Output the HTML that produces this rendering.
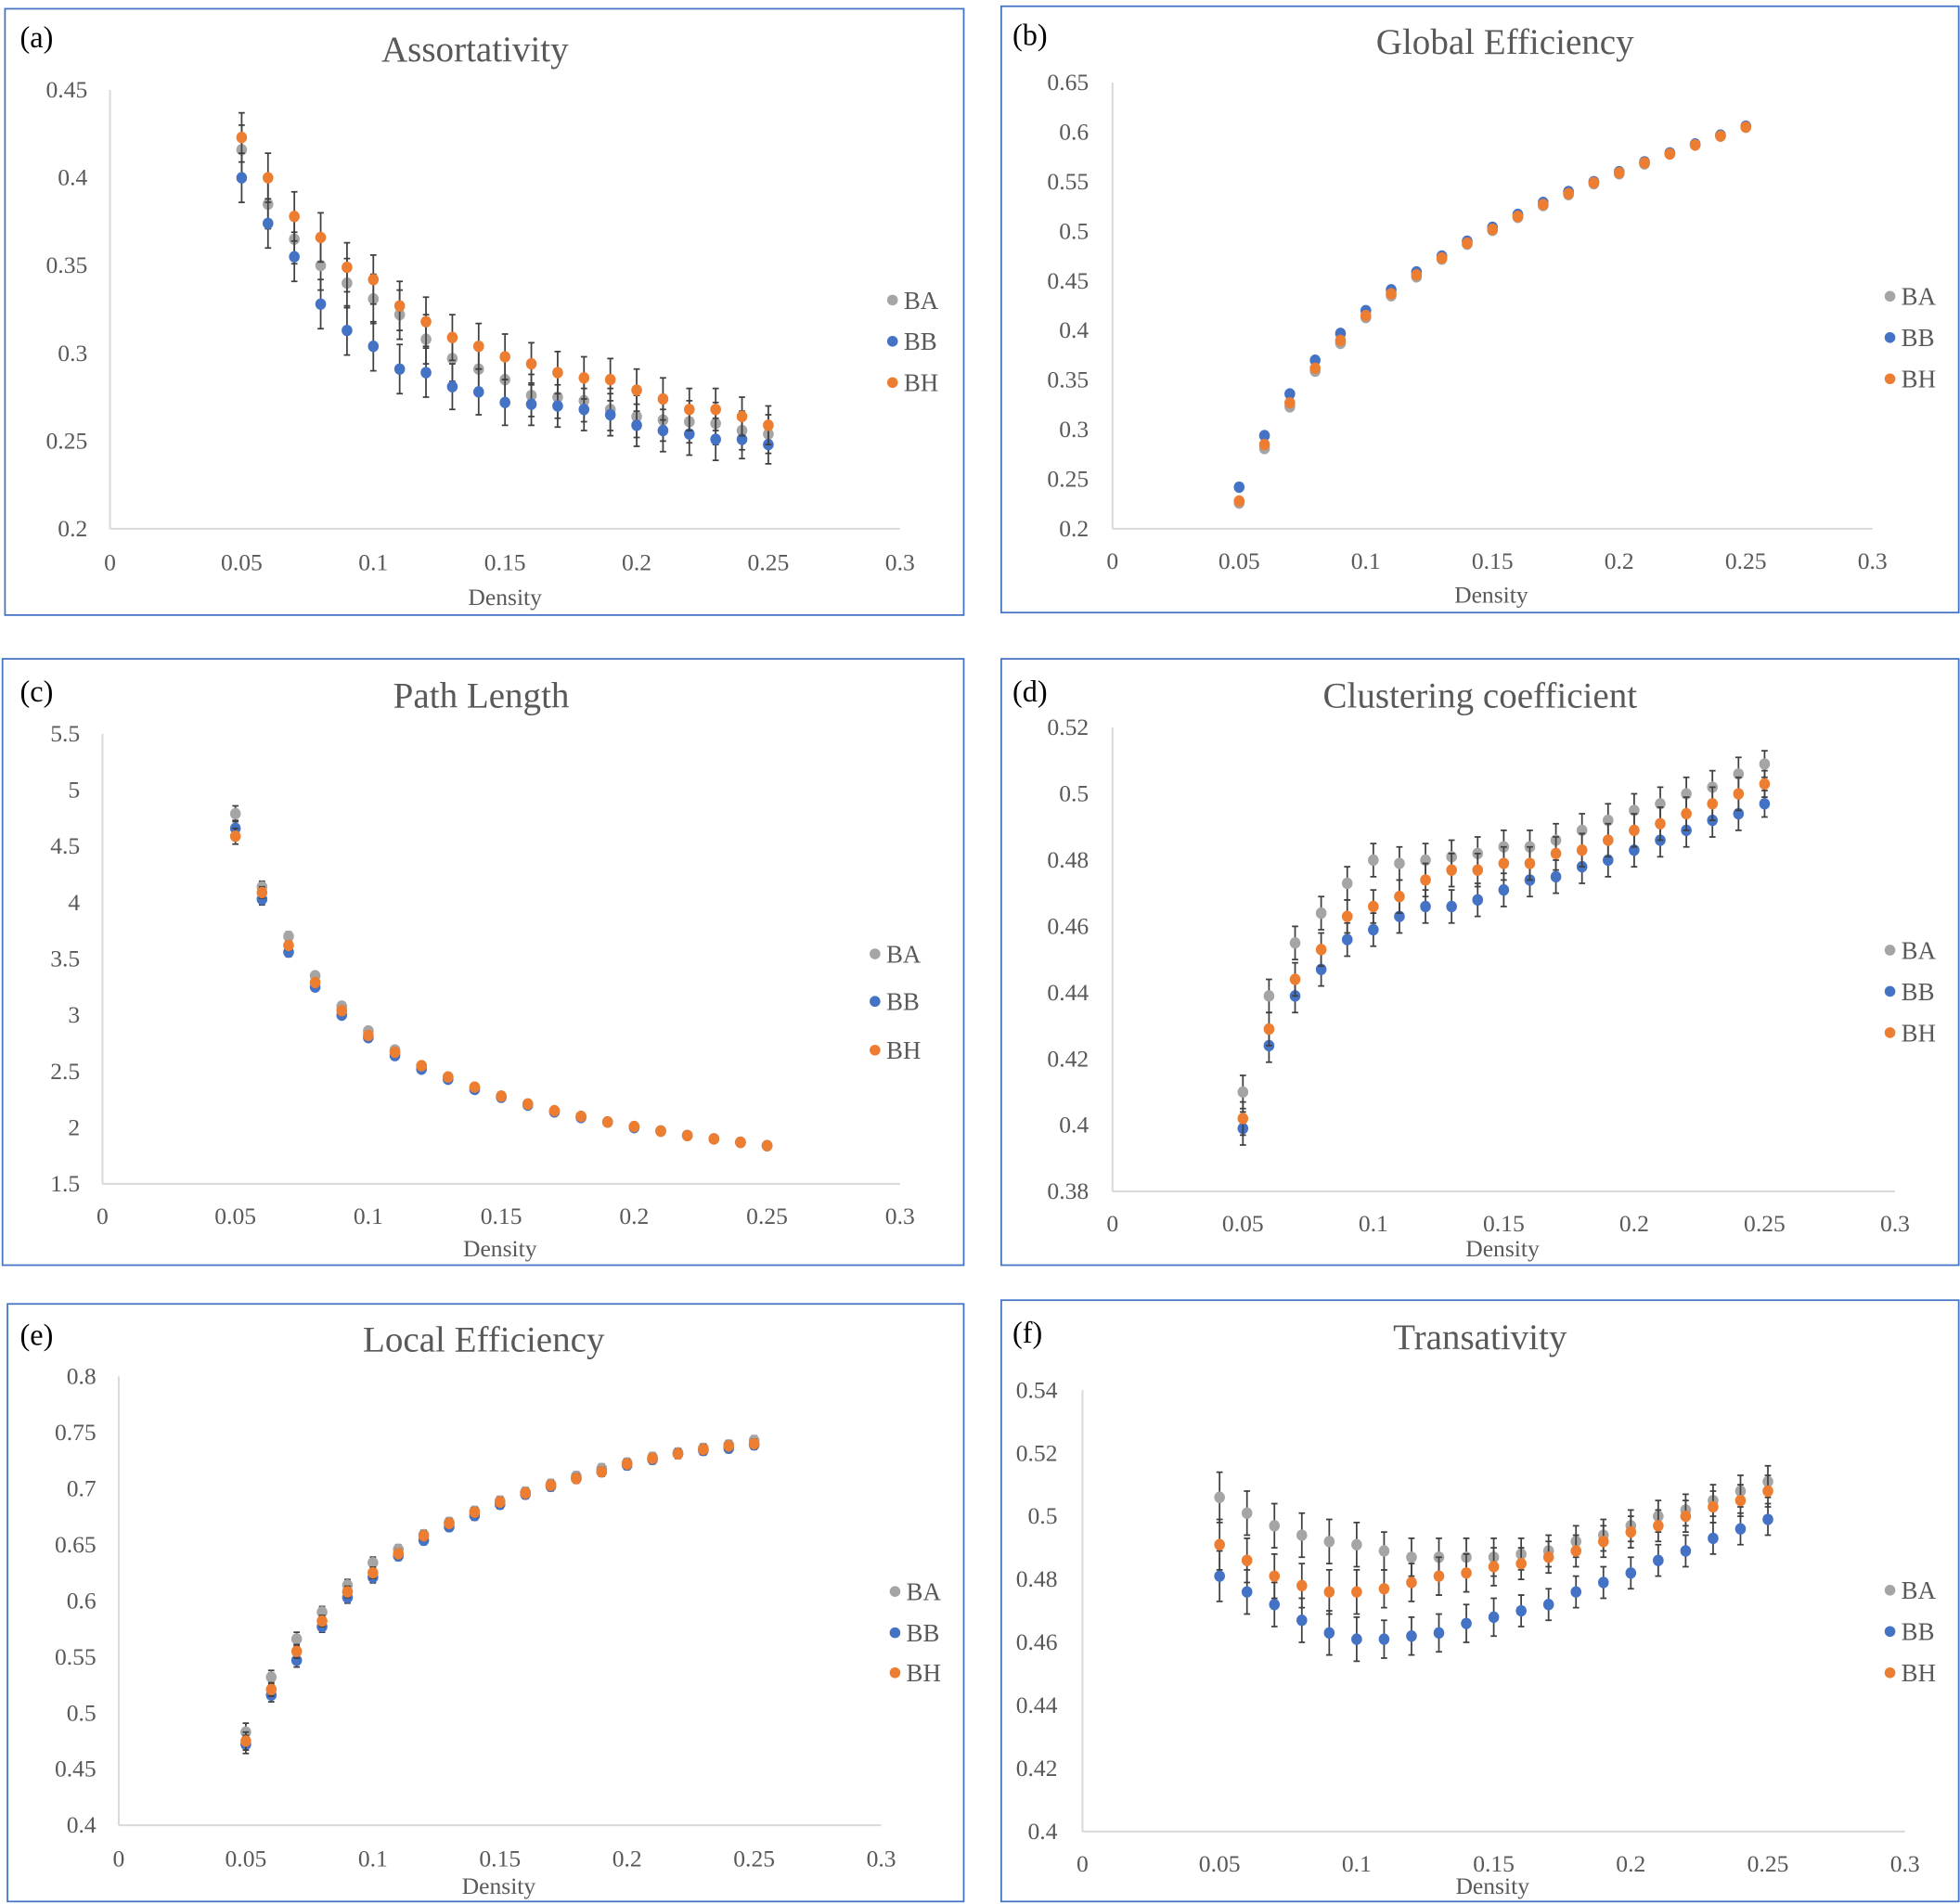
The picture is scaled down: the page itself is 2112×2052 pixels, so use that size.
<!DOCTYPE html>
<html><head><meta charset="utf-8"><style>
html,body{margin:0;padding:0;background:#fff}
svg{display:block}
text{font-family:"Liberation Serif",serif}
</style></head><body>
<svg id="fig" width="2112" height="2052" viewBox="0 0 1568 1523" preserveAspectRatio="none" xmlns="http://www.w3.org/2000/svg"></svg>
<script>
const densities=[0.05,0.06,0.07,0.08,0.09,0.10,0.11,0.12,0.13,0.14,0.15,0.16,0.17,0.18,0.19,0.20,0.21,0.22,0.23,0.24,0.25];
const xTicks=[0,0.05,0.1,0.15,0.2,0.25,0.3];
const seriesNames=["BA","BB","BH"];
const seriesColors=["#a5a5a5","#4472c4","#ed7d31"];

const assortBA=[0.416,0.385,0.365,0.350,0.340,0.331,0.322,0.308,0.297,0.291,0.285,0.276,0.275,0.273,0.268,0.264,0.262,0.261,0.260,0.256,0.254];
const assortBB=[0.400,0.374,0.355,0.328,0.313,0.304,0.291,0.289,0.281,0.278,0.272,0.271,0.270,0.268,0.265,0.259,0.256,0.254,0.251,0.251,0.248];
const assortBH=[0.423,0.400,0.378,0.366,0.349,0.342,0.327,0.318,0.309,0.304,0.298,0.294,0.289,0.286,0.285,0.279,0.274,0.268,0.268,0.264,0.259];
const assortErr=[0.014,0.014,0.014,0.014,0.014,0.014,0.014,0.014,0.013,0.013,0.013,0.012,0.012,0.012,0.012,0.012,0.012,0.012,0.012,0.011,0.011];
const assortTicks=[0.2,0.25,0.3,0.35,0.4,0.45];

const geBA=[0.226,0.281,0.323,0.359,0.387,0.413,0.435,0.454,0.472,0.487,0.501,0.514,0.526,0.537,0.548,0.558,0.568,0.578,0.587,0.596,0.605];
const geBB=[0.242,0.294,0.336,0.370,0.397,0.420,0.441,0.459,0.475,0.490,0.504,0.517,0.529,0.540,0.550,0.560,0.570,0.579,0.588,0.597,0.606];
const geBH=[0.228,0.285,0.327,0.362,0.390,0.415,0.437,0.456,0.473,0.488,0.502,0.515,0.527,0.538,0.549,0.559,0.569,0.578,0.587,0.596,0.605];
const geErr=[0.002,0.002,0.002,0.002,0.002,0.002,0.002,0.002,0.002,0.002,0.002,0.002,0.002,0.002,0.002,0.002,0.002,0.002,0.002,0.002,0.002];
const geTicks=[0.2,0.25,0.3,0.35,0.4,0.45,0.5,0.55,0.6,0.65];

const plBA=[4.79,4.14,3.70,3.35,3.08,2.86,2.69,2.55,2.45,2.36,2.28,2.21,2.15,2.10,2.05,2.01,1.97,1.93,1.90,1.87,1.84];
const plBB=[4.66,4.03,3.56,3.25,3.00,2.80,2.64,2.52,2.43,2.34,2.27,2.20,2.14,2.09,2.05,2.00,1.97,1.93,1.90,1.87,1.84];
const plBH=[4.59,4.09,3.62,3.29,3.04,2.82,2.67,2.55,2.45,2.36,2.28,2.21,2.15,2.10,2.05,2.01,1.97,1.93,1.90,1.87,1.84];
const plErr=[0.07,0.05,0.04,0.03,0.03,0.03,0.02,0.02,0.02,0.02,0.02,0.01,0.01,0.01,0.01,0.01,0.01,0.01,0.01,0.01,0.01];
const plTicks=[1.5,2,2.5,3,3.5,4,4.5,5,5.5];

const ccBA=[0.410,0.439,0.455,0.464,0.473,0.480,0.479,0.480,0.481,0.482,0.484,0.484,0.486,0.489,0.492,0.495,0.497,0.500,0.502,0.506,0.509];
const ccBB=[0.399,0.424,0.439,0.447,0.456,0.459,0.463,0.466,0.466,0.468,0.471,0.474,0.475,0.478,0.480,0.483,0.486,0.489,0.492,0.494,0.497];
const ccBH=[0.402,0.429,0.444,0.453,0.463,0.466,0.469,0.474,0.477,0.477,0.479,0.479,0.482,0.483,0.486,0.489,0.491,0.494,0.497,0.500,0.503];
const ccErr=[0.005,0.005,0.005,0.005,0.005,0.005,0.005,0.005,0.005,0.005,0.005,0.005,0.005,0.005,0.005,0.005,0.005,0.005,0.005,0.005,0.004];
const ccTicks=[0.38,0.4,0.42,0.44,0.46,0.48,0.5,0.52];

const leBA=[0.483,0.532,0.566,0.590,0.614,0.634,0.646,0.659,0.670,0.680,0.689,0.697,0.704,0.711,0.718,0.723,0.728,0.732,0.736,0.739,0.743];
const leBB=[0.472,0.516,0.547,0.577,0.603,0.621,0.640,0.654,0.666,0.676,0.686,0.695,0.702,0.709,0.715,0.721,0.726,0.731,0.734,0.736,0.739];
const leBH=[0.475,0.521,0.555,0.582,0.608,0.625,0.642,0.658,0.669,0.679,0.688,0.696,0.703,0.709,0.715,0.722,0.727,0.731,0.735,0.738,0.740];
const leErr=[0.008,0.006,0.006,0.005,0.005,0.005,0.004,0.004,0.004,0.004,0.004,0.004,0.004,0.004,0.004,0.004,0.004,0.004,0.004,0.004,0.004];
const leTicks=[0.4,0.45,0.5,0.55,0.6,0.65,0.7,0.75,0.8];

const trBA=[0.506,0.501,0.497,0.494,0.492,0.491,0.489,0.487,0.487,0.487,0.487,0.488,0.489,0.492,0.494,0.497,0.500,0.502,0.505,0.508,0.511];
const trBB=[0.481,0.476,0.472,0.467,0.463,0.461,0.461,0.462,0.463,0.466,0.468,0.470,0.472,0.476,0.479,0.482,0.486,0.489,0.493,0.496,0.499];
const trBH=[0.491,0.486,0.481,0.478,0.476,0.476,0.477,0.479,0.481,0.482,0.484,0.485,0.487,0.489,0.492,0.495,0.497,0.500,0.503,0.505,0.508];
const trErr=[0.008,0.007,0.007,0.007,0.007,0.007,0.006,0.006,0.006,0.006,0.006,0.005,0.005,0.005,0.005,0.005,0.005,0.005,0.005,0.005,0.005];
const trTicks=[0.4,0.42,0.44,0.46,0.48,0.5,0.52,0.54];

const NS="http://www.w3.org/2000/svg";
const svg=document.getElementById('fig');
function mk(tag,attrs,parent){const e=document.createElementNS(NS,tag);for(const k in attrs)e.setAttribute(k,attrs[k]);(parent||svg).appendChild(e);return e;}
function txt(s,attrs,parent){const e=mk('text',attrs,parent);e.textContent=s;return e;}

const panels=[
 {id:'assortativity',label:'(a)',title:'Assortativity',box:[4,7,771,492],lab:[16,30],tc:[380,40],x0:88,x1:720,yb:423,yt:72,ticks:assortTicks,dec:2,data:[assortBA,assortBB,assortBH],err:assortErr,lx:714,ly:[240,273,306],dens:[404,478],xl:450,yl:70},
 {id:'global-efficiency',label:'(b)',title:'Global Efficiency',box:[801,5,1567,490],lab:[810,28],tc:[1204,34],x0:890,x1:1498,yb:423,yt:66,ticks:geTicks,dec:2,data:[geBA,geBB,geBH],err:geErr,lx:1512,ly:[237,270,303],dens:[1193,476],xl:449,yl:871},
 {id:'path-length',label:'(c)',title:'Path Length',box:[2,527,771,1012],lab:[16,553],tc:[385,557],x0:82,x1:720,yb:947,yt:587,ticks:plTicks,dec:1,data:[plBA,plBB,plBH],err:plErr,lx:700,ly:[763,801,840],dens:[400,999],xl:973,yl:64},
 {id:'clustering-coefficient',label:'(d)',title:'Clustering coefficient',box:[801,527,1567,1012],lab:[810,553],tc:[1184,557],x0:890,x1:1516,yb:953,yt:582,ticks:ccTicks,dec:2,data:[ccBA,ccBB,ccBH],err:ccErr,lx:1512,ly:[760,793,826],dens:[1202,999],xl:979,yl:871},
 {id:'local-efficiency',label:'(e)',title:'Local Efficiency',box:[6,1043,771,1521],lab:[16,1068],tc:[387,1072],x0:95,x1:705,yb:1460,yt:1101,ticks:leTicks,dec:2,data:[leBA,leBB,leBH],err:leErr,lx:716,ly:[1273,1306,1338],dens:[399,1509],xl:1487,yl:77},
 {id:'transitivity',label:'(f)',title:'Transativity',box:[801,1040,1567,1521],lab:[810,1066],tc:[1184,1070],x0:866,x1:1524,yb:1465,yt:1112,ticks:trTicks,dec:2,data:[trBA,trBB,trBH],err:trErr,lx:1512,ly:[1272,1305,1338],dens:[1194,1509],xl:1491,yl:846}
];

panels.forEach(p=>{
 const g=mk('g',{});
 
 
 const b=p.box;
 const r=mk('rect',{x:b[0],y:b[1],width:b[2]-b[0],height:b[3]-b[1],fill:'#fff',stroke:'#4472c4','stroke-width':1.3},g);
 
 const pl=txt(p.label,{x:p.lab[0],y:p.lab[1]+8,'font-size':24,fill:'#000'},g);
 
 const t=txt(p.title,{x:p.tc[0],y:p.tc[1]+9,'font-size':29,fill:'#595959','text-anchor':'middle'},g);
 
 const ymin=p.ticks[0],ymax=p.ticks[p.ticks.length-1];
 const X=v=>p.x0+(v-xTicks[0])/(xTicks[xTicks.length-1]-xTicks[0])*(p.x1-p.x0);
 const Y=v=>p.yb-(v-ymin)/(ymax-ymin)*(p.yb-p.yt);
 const ya=mk('line',{x1:p.x0,x2:p.x0,y1:p.yt,y2:p.yb,stroke:'#d9d9d9','stroke-width':1.5},g);
 
 const xa=mk('line',{x1:p.x0,x2:p.x1,y1:p.yb,y2:p.yb,stroke:'#d9d9d9','stroke-width':1.5},g);
 
 p.ticks.forEach(v=>{
  const s=(+v.toFixed(p.dec)).toString();
  const e=txt(s,{x:p.yl,y:Y(v)+6,'font-size':19,fill:'#595959','text-anchor':'end'},g);
  
 });
 xTicks.forEach(v=>{
  const e=txt((+v.toFixed(2)).toString(),{x:X(v),y:p.xl+6,'font-size':19,fill:'#595959','text-anchor':'middle'},g);
  
 });
 const d=txt('Density',{x:p.dens[0],y:p.dens[1]+6,'font-size':19,fill:'#595959','text-anchor':'middle'},g);
 
 p.data.forEach((vals,si)=>{
  const sg=mk('g',{},g);
  
  
  vals.forEach((v,i)=>{
   const x=X(densities[i]),e=p.err[i];
   const y1=Y(v+e),y2=Y(v-e);
   if(y2-y1>2){
    const eb=mk('path',{d:`M${x},${y1}V${y2}M${x-2.5},${y1}H${x+2.5}M${x-2.5},${y2}H${x+2.5}`,stroke:'#404040','stroke-width':1.3,fill:'none'},sg);
    
   }
   const c=mk('ellipse',{cx:x,cy:Y(v),rx:4.3,ry:4.6,fill:seriesColors[si]},sg);
   
  });
  const lg=mk('g',{},g);
  
  mk('circle',{cx:p.lx,cy:p.ly[si],r:4.3,fill:seriesColors[si]},lg);
  txt(seriesNames[si],{x:p.lx+9,y:p.ly[si]+7,'font-size':20,fill:'#595959'},lg);
 });
});
</script>
</body></html>
